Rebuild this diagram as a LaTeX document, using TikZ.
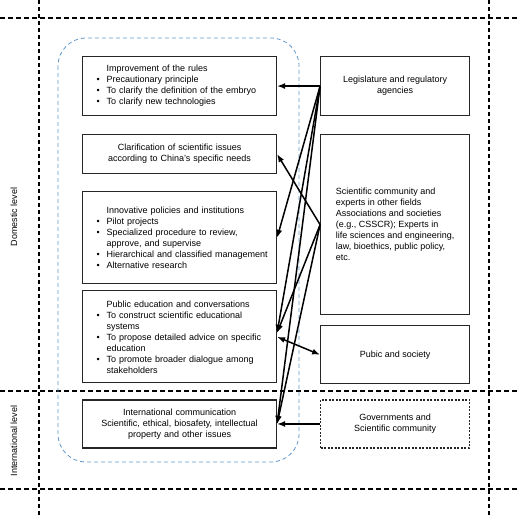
\documentclass[tikz,border=0pt]{standalone}
\usepackage{fontspec}
\setmainfont{Liberation Sans}
\usepackage{xcolor}
\usepackage{tikz}
\usetikzlibrary{shapes.geometric, arrows, arrows.meta, positioning}
\definecolor{regionblue}{RGB}{98,152,205}
\tikzstyle{leftbox} = [rectangle, draw=black!85, line width=1.1pt, text width=166pt, inner xsep=14pt, align=left]
\tikzstyle{leftcbox} = [rectangle, draw=black!85, line width=1.1pt, text width=166pt, inner xsep=14pt, align=center]
\tikzstyle{rightbox} = [rectangle, draw=black!85, line width=1.1pt, minimum width=149pt, align=center]
\tikzstyle{outerbox} = [rightbox, dash pattern=on 2pt off 1.5pt]
\tikzstyle{grid} = [line width=1.1pt, dash pattern=on 5pt off 3pt]
\tikzstyle{region} = [regionblue, line width=0.8pt, dash pattern=on 4pt off 3pt, rounded corners=28pt]
\tikzstyle{arrow} = [-{Latex[length=8pt, width=6pt]}, line width=1.5pt]
\tikzstyle{biarrow} = [{Latex[length=8pt, width=6pt]}-{Latex[length=8pt, width=6pt]}, line width=1.5pt]
\newcommand{\bitem}{\makebox[10pt][l]{\textbullet}}
\newcommand{\bskip}{\hspace*{10pt}}
\begin{document}
\begin{tikzpicture}[x=1pt, y=-1pt, node distance=18pt and 43pt, font=\fontsize{9}{11}\selectfont]
\useasboundingbox (0,0) rectangle (520,516);

% levels
\draw[grid] (0,18) -- (520,18);
\draw[grid] (0,391) -- (520,391);
\draw[grid] (0,489) -- (520,489);
\draw[grid, dash pattern=on 4pt off 3pt] (39,0) -- (39,516);
\draw[grid, dash pattern=on 4pt off 3pt] (489,0) -- (489,516);
\node[rotate=90] (domestic) at (14,217) {Domestic level};
\node[rotate=90] (international) at (14,441) {International level};

% blue region
\draw[region] (58,38) rectangle (299,462);

% left column
\node[leftbox, minimum height=59pt, anchor=north west] (rules) at (82,56) {\bskip Improvement of the rules\\\bitem Precautionary principle\\\bitem To clarify the definition of the embryo\\\bitem To clarify new technologies};
\node[leftcbox, minimum height=39pt, below=18pt of rules] (clarify) {Clarification of scientific issues\\according to China’s specific needs};
\node[leftbox, minimum height=92pt, below=17pt of clarify] (policies) {\bskip Innovative policies and institutions\\\bitem Pilot projects\\\bitem Specialized procedure to review,\\\bskip approve, and supervise\\\bitem \mbox{Hierarchical and classified management}\\\bitem Alternative research};
\node[leftbox, minimum height=92pt, below=6pt of policies] (education) {\bskip Public education and conversations\\\bitem To construct scientific educational\\\bskip systems\\\bitem To propose detailed advice on specific\\\bskip education\\\bitem To promote broader dialogue among\\\bskip stakeholders};
\node[leftcbox, minimum height=48pt, below=16pt of education] (intl) {International communication\\Scientific, ethical, biosafety, intellectual\\property and other issues};

% right column
\node[rightbox, minimum height=59pt, right=of rules] (legis) {Legislature and regulatory\\agencies};
\node[rightbox, align=left, minimum height=180pt, below=18pt of legis] (science) {Scientific community and\\experts in other fields\\Associations and societies\\(e.g., CSSCR); Experts in\\life sciences and engineering,\\law, bioethics, public policy,\\etc.};
\node[rightbox, minimum height=58pt, below=10pt of science] (public) {Pubic and society};
\node[outerbox, minimum height=48pt, right=of intl] (govern) {Governments and\\Scientific community};

% arrows
\draw[arrow] (legis.west) -- (rules.east);
\draw[arrow] (legis.west) -- (policies.east);
\draw[arrow] (legis.west) -- ([yshift=4pt]education.east);
\draw[arrow] (legis.west) -- (intl.east);
\draw[arrow] (science.west) -- (clarify.east);
\draw[arrow] (science.west) -- ([yshift=4pt]education.east);
\draw[arrow] (science.west) -- (intl.east);
\draw[biarrow] (education.east) -- (public.west);
\draw[arrow] (govern.west) -- (intl.east);

\end{tikzpicture}
\end{document}
